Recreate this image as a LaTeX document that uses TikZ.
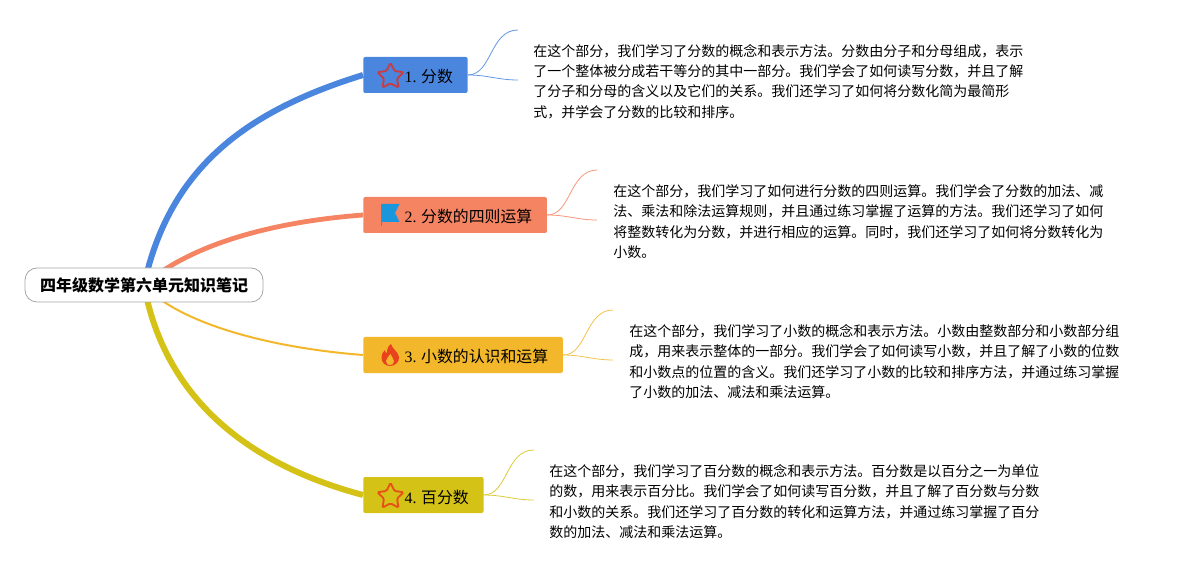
\documentclass[tikz,border=0pt]{standalone}
\usepackage{fontspec}
\setmainfont{Noto Sans CJK SC}
\newfontfamily\numfont{Liberation Serif}
\usetikzlibrary{shapes.geometric,backgrounds}
\definecolor{cBlue}{HTML}{4A86DD}
\definecolor{cOrange}{HTML}{F58462}
\definecolor{cAmber}{HTML}{F2B72B}
\definecolor{cOlive}{HTML}{D4C216}
\definecolor{cStarOne}{HTML}{CC3B3F}
\definecolor{cStarTwo}{HTML}{E8501A}
\definecolor{cFlag}{HTML}{1A96DD}
\definecolor{cFire}{HTML}{E8431C}
\begin{document}
\begin{tikzpicture}[x=0.75pt,y=-0.75pt,
  root/.style={draw=black!35,line width=0.6pt,fill=white,rounded corners=9pt,minimum width=178.5pt,minimum height=25.5pt,inner sep=0pt,font=\fontsize{12}{14}\selectfont\bfseries},
  branch/.style={anchor=west,rounded corners=1.5pt,minimum height=27pt,text height=12pt,text depth=0pt,inner xsep=0pt,inner ysep=0pt,font=\fontsize{11.9}{14}\selectfont},
  note/.style={anchor=west,align=left,inner sep=0pt,font=\fontsize{10.5}{15.25}\selectfont},
  staricon/.style={star,star points=5,star point ratio=2,minimum size=20.5pt,inner sep=0pt,line width=1.4pt,rounded corners=1pt}]
\def\yOne{75}
\def\yTwo{215}
\def\yThree{355}
\def\yFour{495}
\useasboundingbox (0,0) rectangle (1189,570);

\node[root] (center) at (144,285) {四年级数学第六单元知识笔记};
\node[branch,fill=cBlue] (b1) at (363,\yOne) {\hspace*{31pt}{\numfont 1.} 分数\hspace*{11pt}};
\node[branch,fill=cOrange] (b2) at (363,\yTwo) {\hspace*{31pt}{\numfont 2.} 分数的四则运算\hspace*{11pt}};
\node[branch,fill=cAmber] (b3) at (363,\yThree) {\hspace*{31pt}{\numfont 3.} 小数的认识和运算\hspace*{11pt}};
\node[branch,fill=cOlive] (b4) at (363,\yFour) {\hspace*{31pt}{\numfont 4.} 百分数\hspace*{11pt}};

\node[staricon,draw=cStarOne] (star1) at (390.5,76.5) {};
\node[staricon,draw=cStarTwo] (star4) at (390.5,496.5) {};

% flag and flame
\fill[cFlag] (382,204) -- (399.5,204) -- (395,213) -- (399.5,222) -- (382,222) -- cycle;
\draw[cFlag!70!gray,line width=1pt] (381.5,204) -- (381.5,226);
\begin{scope}[shift={(390,355)}]
\fill[cFire] (1,-11) .. controls (2,-6) and (8,-4) .. (9,2)
  .. controls (9.5,7) and (5,11) .. (0,11) .. controls (-5,11) and (-9,7) .. (-8.5,2)
  .. controls (-8.5,-1) and (-7,-3) .. (-5,-5) .. controls (-5,-3) and (-4,-2) .. (-3,-2)
  .. controls (-3,-6) and (-2,-9) .. (1,-11) -- cycle;
\fill[cAmber] (0.5,-1) .. controls (1,2) and (4,3) .. (4,6)
  .. controls (4,9) and (2,10) .. (0,10) .. controls (-2,10) and (-4,9) .. (-4,6)
  .. controls (-4,3) and (-1,2) .. (0.5,-1) -- cycle;
\end{scope}

\path
(533,81.5) node [note] (note1) {在这个部分，我们学习了分数的概念和表示方法。分数由分子和分母组成，表示\\了一个整体被分成若干等分的其中一部分。我们学会了如何读写分数，并且了解\\了分子和分母的含义以及它们的关系。我们还学习了如何将分数化简为最简形\\式，并学会了分数的比较和排序。}
(613,221.5) node [note] (note2) {在这个部分，我们学习了如何进行分数的四则运算。我们学会了分数的加法、减\\法、乘法和除法运算规则，并且通过练习掌握了运算的方法。我们还学习了如何\\将整数转化为分数，并进行相应的运算。同时，我们还学习了如何将分数转化为\\小数。}
(629,361.5) node [note] (note3) {在这个部分，我们学习了小数的概念和表示方法。小数由整数部分和小数部分组\\成，用来表示整体的一部分。我们学会了如何读写小数，并且了解了小数的位数\\和小数点的位置的含义。我们还学习了小数的比较和排序方法，并通过练习掌握\\了小数的加法、减法和乘法运算。}
(549,501.5) node [note] (note4) {在这个部分，我们学习了百分数的概念和表示方法。百分数是以百分之一为单位\\的数，用来表示百分比。我们学会了如何读写百分数，并且了解了百分数与分数\\和小数的关系。我们还学习了百分数的转化和运算方法，并通过练习掌握了百分\\数的加法、减法和乘法运算。}
;

\begin{scope}[on background layer]
\draw[cBlue,line width=4.5pt] (center.center) .. controls (170,165) and (250,110) .. (b1.west);
\draw[cOrange,line width=3.6pt] (center.center) .. controls (190,245) and (270,222) .. (b2.west);
\draw[cAmber,line width=1.5pt] (center.center) .. controls (175,320) and (260,347) .. (b3.west);
\draw[cOlive,line width=4.5pt] (center.center) .. controls (165,400) and (250,465) .. (b4.west);
\end{scope}

\foreach \i/\c in {1/cBlue,2/cOrange,3/cAmber,4/cOlive}{
  \coordinate (tip\i a) at ([shift={(50,-45)}]b\i.east);
  \coordinate (tip\i b) at ([shift={(50,5)}]b\i.east);
  \draw[\c!85!white,line width=0.6pt] (b\i.east) .. controls +(24,0) and +(-28,0) .. (tip\i a);
  \draw[\c!85!white,line width=0.6pt] (b\i.east) .. controls +(20,0) and +(-20,0) .. (tip\i b);
}
\end{tikzpicture}
\end{document}
